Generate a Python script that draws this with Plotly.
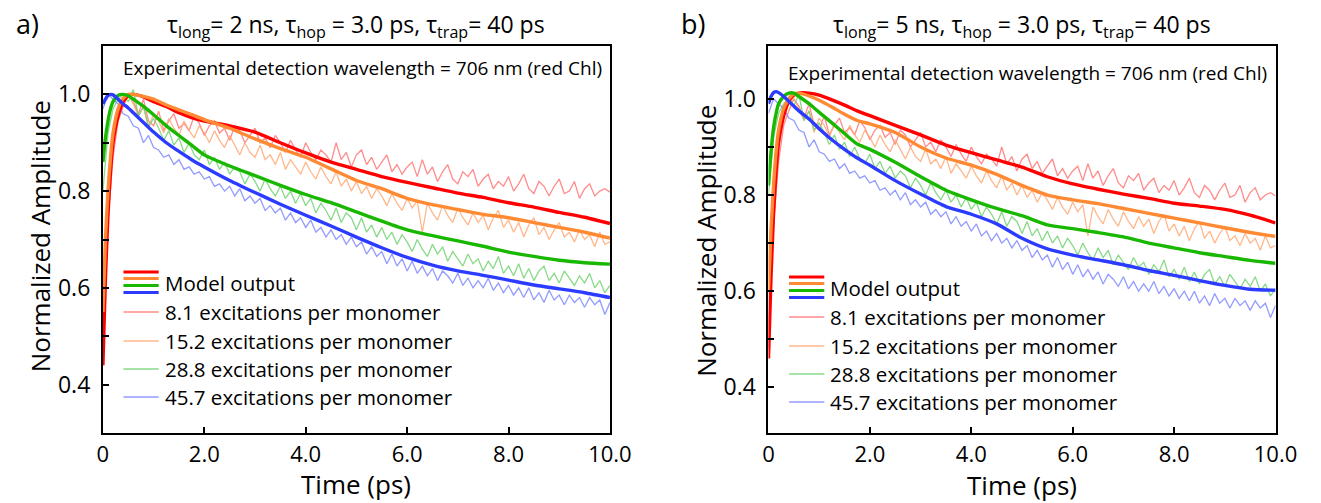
import plotly.graph_objects as go

W, H = 1321, 503

# ---------------- data ----------------
t_model = [0, 0.05, 0.1, 0.15, 0.2, 0.3, 0.4, 0.5, 0.6, 0.8, 1.0, 1.25, 1.5, 1.75, 2.0, 2.5,
           3.0, 3.5, 4.0, 4.5, 5.0, 5.5, 6.0, 6.5, 7.0, 7.5, 8.0, 8.5, 9.0, 9.5, 10.0]

# panel a model (tau_long = 2 ns)
model_a_red = [0.44, 0.62, 0.75, 0.84, 0.90, 0.955, 0.985, 0.997, 1.0, 0.995, 0.985, 0.975, 0.962, 0.952,
               0.945, 0.935, 0.922, 0.900, 0.879, 0.860, 0.845, 0.830, 0.818, 0.807, 0.796, 0.787,
               0.776, 0.767, 0.756, 0.746, 0.733]
model_a_orange = [0.55, 0.70, 0.80, 0.87, 0.92, 0.97, 0.992, 1.0, 1.0, 0.996, 0.99, 0.978, 0.968, 0.958,
                  0.948, 0.930, 0.908, 0.888, 0.870, 0.846, 0.822, 0.805, 0.785, 0.772, 0.762, 0.752,
                  0.745, 0.735, 0.725, 0.715, 0.703]
model_a_green = [0.86, 0.91, 0.945, 0.97, 0.985, 0.998, 1.0, 0.997, 0.99, 0.975, 0.958, 0.935, 0.915,
                 0.895, 0.875, 0.852, 0.832, 0.812, 0.793, 0.776, 0.757, 0.738, 0.720, 0.708, 0.697,
                 0.686, 0.674, 0.665, 0.657, 0.652, 0.649]
model_a_blue = [0.98, 0.99, 0.998, 1.0, 0.999, 0.99, 0.98, 0.972, 0.962, 0.942, 0.922, 0.90, 0.882,
                0.865, 0.850, 0.822, 0.797, 0.773, 0.750, 0.728, 0.705, 0.683, 0.663, 0.647, 0.635,
                0.626, 0.616, 0.606, 0.598, 0.590, 0.580]

# panel b model (tau_long = 5 ns)
model_b_red = [0.46, 0.63, 0.76, 0.85, 0.91, 0.965, 0.995, 1.008, 1.012, 1.012, 1.008, 0.998, 0.987,
               0.975, 0.965, 0.945, 0.925, 0.904, 0.888, 0.873, 0.858, 0.838, 0.823, 0.812, 0.802,
               0.793, 0.783, 0.777, 0.770, 0.758, 0.742]
model_b_orange = [0.60, 0.73, 0.82, 0.89, 0.935, 0.98, 1.0, 1.01, 1.012, 1.006, 0.997, 0.983, 0.968,
                  0.955, 0.948, 0.930, 0.900, 0.877, 0.862, 0.843, 0.820, 0.800, 0.790, 0.782, 0.772,
                  0.762, 0.752, 0.742, 0.732, 0.722, 0.714]
model_b_green = [0.82, 0.89, 0.94, 0.97, 0.99, 1.005, 1.012, 1.012, 1.005, 0.99, 0.972, 0.95, 0.928,
                 0.906, 0.895, 0.868, 0.838, 0.810, 0.790, 0.772, 0.757, 0.738, 0.730, 0.722, 0.713,
                 0.700, 0.690, 0.680, 0.672, 0.664, 0.658]
model_b_blue = [0.99, 1.005, 1.013, 1.015, 1.013, 1.005, 0.995, 0.985, 0.975, 0.958, 0.938, 0.915,
                0.895, 0.877, 0.862, 0.830, 0.802, 0.776, 0.760, 0.740, 0.710, 0.688, 0.675, 0.665,
                0.655, 0.643, 0.633, 0.622, 0.612, 0.604, 0.602]

# experimental traces (same data in both panels), t = 0 .. 10 ps step 0.1
t_exp = [round(i * 0.1, 1) for i in range(101)]
exp_8_1 = [0.48, 0.74, 0.87, 0.945, 0.975, 1.00, 0.985, 0.96, 0.99, 0.945,
           0.935, 0.965, 0.925, 0.945, 0.96, 0.93, 0.94, 0.925, 0.955, 0.94,
           0.915, 0.935, 0.945, 0.92, 0.93, 0.905, 0.935, 0.925, 0.90, 0.915,
           0.93, 0.90, 0.91, 0.89, 0.915, 0.90, 0.88, 0.905, 0.885, 0.87,
           0.90, 0.88, 0.865, 0.885, 0.875, 0.86, 0.90, 0.865, 0.88, 0.85,
           0.875, 0.885, 0.855, 0.87, 0.845, 0.86, 0.875, 0.84, 0.855, 0.835,
           0.85, 0.86, 0.83, 0.865, 0.835, 0.85, 0.82, 0.84, 0.855, 0.825,
           0.815, 0.84, 0.83, 0.845, 0.81, 0.825, 0.835, 0.805, 0.82, 0.81,
           0.83, 0.80, 0.815, 0.835, 0.805, 0.795, 0.82, 0.81, 0.79, 0.81,
           0.825, 0.795, 0.80, 0.82, 0.785, 0.805, 0.815, 0.79, 0.80, 0.805,
           0.798]
exp_15_2 = [0.50, 0.77, 0.90, 0.96, 0.99, 1.00, 0.98, 0.955, 0.975, 0.93,
            0.96, 0.945, 0.92, 0.95, 0.93, 0.915, 0.945, 0.925, 0.91, 0.935,
            0.92, 0.90, 0.925, 0.905, 0.89, 0.915, 0.895, 0.875, 0.90, 0.88,
            0.87, 0.895, 0.865, 0.875, 0.855, 0.88, 0.845, 0.865, 0.85, 0.835,
            0.86, 0.84, 0.825, 0.85, 0.83, 0.815, 0.84, 0.81, 0.825, 0.80,
            0.82, 0.795, 0.81, 0.785, 0.805, 0.79, 0.77, 0.795, 0.775, 0.76,
            0.785, 0.765, 0.78, 0.715, 0.775, 0.755, 0.74, 0.77, 0.75, 0.735,
            0.765, 0.745, 0.73, 0.755, 0.735, 0.75, 0.72, 0.745, 0.76, 0.725,
            0.74, 0.715, 0.735, 0.705, 0.73, 0.745, 0.71, 0.725, 0.70, 0.72,
            0.735, 0.705, 0.715, 0.695, 0.72, 0.70, 0.71, 0.685, 0.715, 0.69,
            0.695]
exp_28_8 = [0.80, 0.92, 0.97, 0.99, 1.00, 0.985, 1.01, 0.955, 0.975, 0.935,
            0.95, 0.93, 0.905, 0.925, 0.895, 0.91, 0.88, 0.90, 0.875, 0.865,
            0.885, 0.855, 0.87, 0.845, 0.86, 0.835, 0.85, 0.84, 0.815, 0.835,
            0.82, 0.80, 0.825, 0.805, 0.79, 0.81, 0.785, 0.80, 0.775, 0.795,
            0.77, 0.785, 0.755, 0.775, 0.76, 0.74, 0.765, 0.735, 0.755, 0.745,
            0.72, 0.745, 0.715, 0.73, 0.705, 0.725, 0.70, 0.715, 0.69, 0.71,
            0.695, 0.675, 0.70, 0.68, 0.665, 0.69, 0.67, 0.685, 0.655, 0.675,
            0.66, 0.645, 0.67, 0.65, 0.66, 0.635, 0.655, 0.64, 0.665, 0.63,
            0.645, 0.625, 0.65, 0.62, 0.64, 0.615, 0.635, 0.645, 0.615, 0.63,
            0.61, 0.635, 0.62, 0.605, 0.625, 0.61, 0.63, 0.60, 0.615, 0.59,
            0.605]
exp_45_7 = [0.97, 1.00, 0.99, 0.98, 0.96, 0.955, 0.935, 0.93, 0.90, 0.915,
            0.89, 0.885, 0.87, 0.875, 0.855, 0.865, 0.845, 0.85, 0.835, 0.84,
            0.825, 0.83, 0.81, 0.815, 0.80, 0.81, 0.79, 0.805, 0.78, 0.79,
            0.775, 0.785, 0.76, 0.77, 0.755, 0.765, 0.74, 0.755, 0.735, 0.745,
            0.725, 0.74, 0.715, 0.725, 0.705, 0.72, 0.70, 0.71, 0.69, 0.705,
            0.685, 0.695, 0.67, 0.685, 0.665, 0.675, 0.65, 0.67, 0.645, 0.66,
            0.635, 0.655, 0.63, 0.645, 0.625, 0.64, 0.615, 0.635, 0.625, 0.61,
            0.63, 0.605, 0.62, 0.60, 0.615, 0.60, 0.62, 0.595, 0.61, 0.59,
            0.605, 0.585, 0.60, 0.58, 0.60, 0.575, 0.59, 0.57, 0.595, 0.575,
            0.585, 0.565, 0.585, 0.57, 0.58, 0.56, 0.58, 0.565, 0.575, 0.545,
            0.57]

legend_labels = ["8.1 excitations per monomer", "15.2 excitations per monomer",
                 "28.8 excitations per monomer", "45.7 excitations per monomer"]
x_tickvals = [0, 2, 4, 6, 8, 10]
x_ticktext = ["0", "2.0", "4.0", "6.0", "8.0", "10.0"]
y_tickvals = [0.4, 0.6, 0.8, 1.0]
titles = ["τ<sub>long</sub>= 2 ns, τ<sub>hop</sub> = 3.0 ps, τ<sub>trap</sub>= 40 ps",
          "τ<sub>long</sub>= 5 ns, τ<sub>hop</sub> = 3.0 ps, τ<sub>trap</sub>= 40 ps"]
panel_letters = ["a)", "b)"]
note = "Experimental detection wavelength = 706 nm (red Chl)"

# ---------------- styles ----------------
FONT = "Open Sans"
model_colors = ["#FF0000", "#FF8A33", "#19B800", "#2B3BFF"]
exp_colors = ["rgba(255,110,110,0.8)", "rgba(255,170,120,0.85)",
              "rgba(115,210,115,0.85)", "rgba(120,130,255,0.8)"]


def px(x):
    return x / W


def py(y):
    return 1 - y / H


fig = go.Figure()

models = [[model_a_red, model_a_orange, model_a_green, model_a_blue],
          [model_b_red, model_b_orange, model_b_green, model_b_blue]]
exps = [exp_8_1, exp_15_2, exp_28_8, exp_45_7]

for p in range(2):
    xa = "x" if p == 0 else "x2"
    ya = "y" if p == 0 else "y2"
    for i, e in enumerate(exps):
        fig.add_trace(go.Scatter(x=t_exp, y=e, mode="lines", xaxis=xa, yaxis=ya,
                                 line=dict(color=exp_colors[i], width=1.3),
                                 showlegend=False, hoverinfo="skip"))
    for i, m in enumerate(models[p]):
        fig.add_trace(go.Scatter(x=t_model, y=m, mode="lines", xaxis=xa, yaxis=ya,
                                 line=dict(color=model_colors[i], width=3.4, shape="spline",
                                           smoothing=0.6),
                                 showlegend=False, hoverinfo="skip"))

box = [dict(x0=99, x1=617, yr=[0.30, 1.10]), dict(x0=779, x1=1297, yr=[0.305, 1.11])]
top, bottom = 46, 433

axis_common = dict(showline=True, mirror=True, linecolor="black", linewidth=2,
                   ticks="inside", ticklen=6, tickwidth=1.5, tickcolor="black",
                   showgrid=False, zeroline=False)

for p in range(2):
    xkey = "xaxis" if p == 0 else "xaxis2"
    ykey = "yaxis" if p == 0 else "yaxis2"
    fig.layout[xkey] = dict(domain=[px(box[p]["x0"]), px(box[p]["x1"])], range=[0, 10],
                            tickvals=x_tickvals, ticktext=x_ticktext,
                            anchor="y" if p == 0 else "y2", ticklabelstandoff=1,
                            tickfont=dict(family=FONT, size=22, color="black"),
                            **axis_common)
    fig.layout[ykey] = dict(domain=[py(bottom), py(top)], range=box[p]["yr"],
                            tickvals=y_tickvals, tickformat=".1f",
                            anchor="x" if p == 0 else "x2", ticklabelstandoff=6,
                            tickfont=dict(family=FONT, size=23, color="black"),
                            minor=dict(tickvals=[0.5, 0.7, 0.9], ticks="inside", ticklen=6,
                                       tickwidth=1.5, tickcolor="black"),
                            **axis_common)

annotations = []
shapes = []
dy = [0, 5]
for p in range(2):
    off = box[p]["x0"] - 99
    cx = (box[p]["x0"] + box[p]["x1"]) / 2
    annotations.append(dict(text=titles[p], x=px(cx), y=py(26), xref="paper", yref="paper",
                            showarrow=False, xanchor="center", yanchor="middle",
                            font=dict(family=FONT, size=23, color="black")))
    annotations.append(dict(text=panel_letters[p], x=px(22 + off), y=py(24), xref="paper",
                            yref="paper", showarrow=False, xanchor="center", yanchor="middle",
                            font=dict(family=FONT, size=27, color="black")))
    annotations.append(dict(text=note, x=px(364 + off), y=py(68 + dy[p]), xref="paper",
                            yref="paper", showarrow=False, xanchor="center", yanchor="middle",
                            font=dict(family=FONT, size=19, color="black")))
    annotations.append(dict(text="Time (ps)", x=px(cx), y=py(483.5 + p), xref="paper",
                            yref="paper", showarrow=False, xanchor="center", yanchor="middle",
                            font=dict(family=FONT, size=26, color="black")))
    annotations.append(dict(text="Normalized Amplitude", x=px(35 + off), y=py(236 + dy[p]),
                            xref="paper", yref="paper", showarrow=False, textangle=-90,
                            xanchor="center", yanchor="middle",
                            font=dict(family=FONT, size=26, color="black")))
    for k, yy in enumerate([272, 278.5, 285.5, 292.5]):
        shapes.append(dict(type="line", xref="paper", yref="paper",
                           x0=px(120 + off), x1=px(156 + off),
                           y0=py(yy + dy[p]), y1=py(yy + dy[p]),
                           line=dict(color=model_colors[k], width=3)))
    annotations.append(dict(text="Model output", x=px(160 + off), y=py(283 + dy[p]),
                            xref="paper", yref="paper", showarrow=False, xanchor="left",
                            yanchor="middle", font=dict(family=FONT, size=20.5, color="black")))
    for k, yy in enumerate([312, 341, 369, 397]):
        shapes.append(dict(type="line", xref="paper", yref="paper",
                           x0=px(120 + off), x1=px(156 + off),
                           y0=py(yy + dy[p]), y1=py(yy + dy[p]),
                           line=dict(color=exp_colors[k], width=1.5)))
        annotations.append(dict(text=legend_labels[k], x=px(160 + off), y=py(yy + dy[p]),
                                xref="paper", yref="paper", showarrow=False, xanchor="left",
                                yanchor="middle",
                                font=dict(family=FONT, size=20.5, color="black")))

fig.update_layout(width=W, height=H, margin=dict(l=0, r=0, t=0, b=0),
                  paper_bgcolor="white", plot_bgcolor="white", showlegend=False,
                  annotations=annotations, shapes=shapes)

fig.write_html("out.html")
